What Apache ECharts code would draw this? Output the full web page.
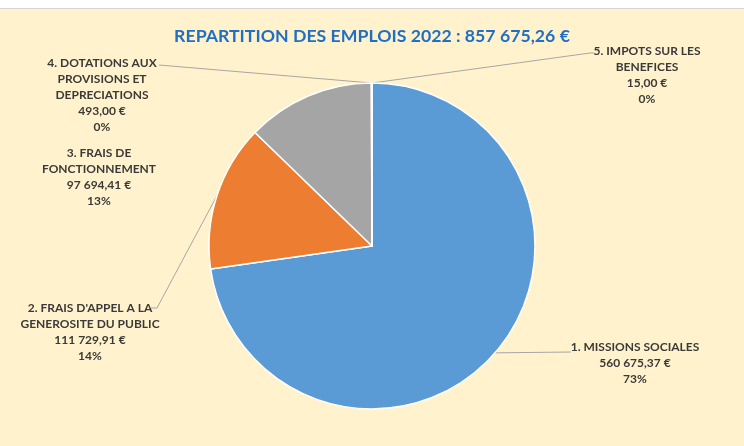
<!DOCTYPE html>
<html>
<head>
<meta charset="utf-8">
<script src="https://cdn.jsdelivr.net/npm/echarts@6/dist/echarts.min.js"></script>
<style>
  html, body { margin: 0; padding: 0; background: #ffffff; }
  #wrap { position: absolute; left: 0; top: 8px; width: 744px; height: 438px; border-top: 1px solid #d4d4d4; background: #FFF2CC; }
  #chart { width: 744px; height: 437px; }
</style>
</head>
<body>
<div id="wrap"><div id="chart"></div></div>
<script>
// ---- Data ----
const titleText = 'REPARTITION DES EMPLOIS 2022 : 857 675,26 €';
const categories = [
  '1. MISSIONS SOCIALES',
  "2. FRAIS D'APPEL A LA\nGENEROSITE DU PUBLIC",
  '3. FRAIS DE\nFONCTIONNEMENT',
  '4. DOTATIONS AUX\nPROVISIONS ET\nDEPRECIATIONS',
  '5. IMPOTS SUR LES\nBENEFICES'
];
const values = [560675.37, 111729.91, 97694.41, 493.00, 15.00];
const colors = ['#5B9BD5', '#ED7D31', '#A5A5A5', '#FFC000', '#4472C4'];

// ---- Layout (label anchors, chart-container coords) ----
const labelAnchors = [
  { x: 635, y: 330 },
  { x: 90,  y: 291 },
  { x: 99,  y: 136 },
  { x: 102, y: 46 },
  { x: 647, y: 34 }
];
const lineEnds = [
  [[571, 343], [571, 343]],
  [[157, 299], [151, 299]],
  null,
  [[159, 56], [159, 56]],
  [[590, 44], [594, 44]]
];

const total = values.reduce(function (a, b) { return a + b; }, 0);

function frNum(v) {
  const parts = v.toFixed(2).split('.');
  const intPart = parts[0].replace(/\B(?=(\d{3})+(?!\d))/g, ' ');
  return intPart + ',' + parts[1];
}

const chart = echarts.init(document.getElementById('chart'), null, { renderer: 'canvas' });
chart.setOption({
  backgroundColor: 'transparent',
  animation: false,
  title: {
    text: titleText,
    left: 'center',
    top: 13,
    textStyle: { fontFamily: 'Lato', fontWeight: 'bold', fontSize: 17.7, color: '#1F6FC5' }
  },
  series: [{
    type: 'pie',
    center: [372, 237],
    radius: [0, 163],
    startAngle: 90,
    clockwise: true,
    avoidLabelOverlap: false,
    itemStyle: { borderColor: '#ffffff', borderWidth: 1.5 },
    label: {
      show: true,
      position: 'outside',
      fontFamily: 'Lato',
      fontWeight: 'bold',
      fontSize: 12,
      lineHeight: 16,
      color: '#3A3A3A',
      align: 'center',
      formatter: function (p) {
        return p.name + '\n' + frNum(p.value) + ' €\n' + Math.round(p.value / total * 100) + '%';
      }
    },
    labelLine: { show: true, lineStyle: { color: '#A6A6A6', width: 1 } },
    labelLayout: function (params) {
      const i = params.dataIndex;
      const a = labelAnchors[i];
      const res = { x: a.x, y: a.y, align: 'center', verticalAlign: 'top' };
      const pts = params.labelLinePoints;
      if (lineEnds[i] && pts) {
        res.labelLinePoints = [pts[0], lineEnds[i][0], lineEnds[i][1]];
      }
      return res;
    },
    data: categories.map(function (c, i) {
      const d = { name: c, value: values[i], itemStyle: { color: colors[i] } };
      if (!lineEnds[i]) d.labelLine = { show: false };
      return d;
    })
  }]
});
</script>
</body>
</html>
